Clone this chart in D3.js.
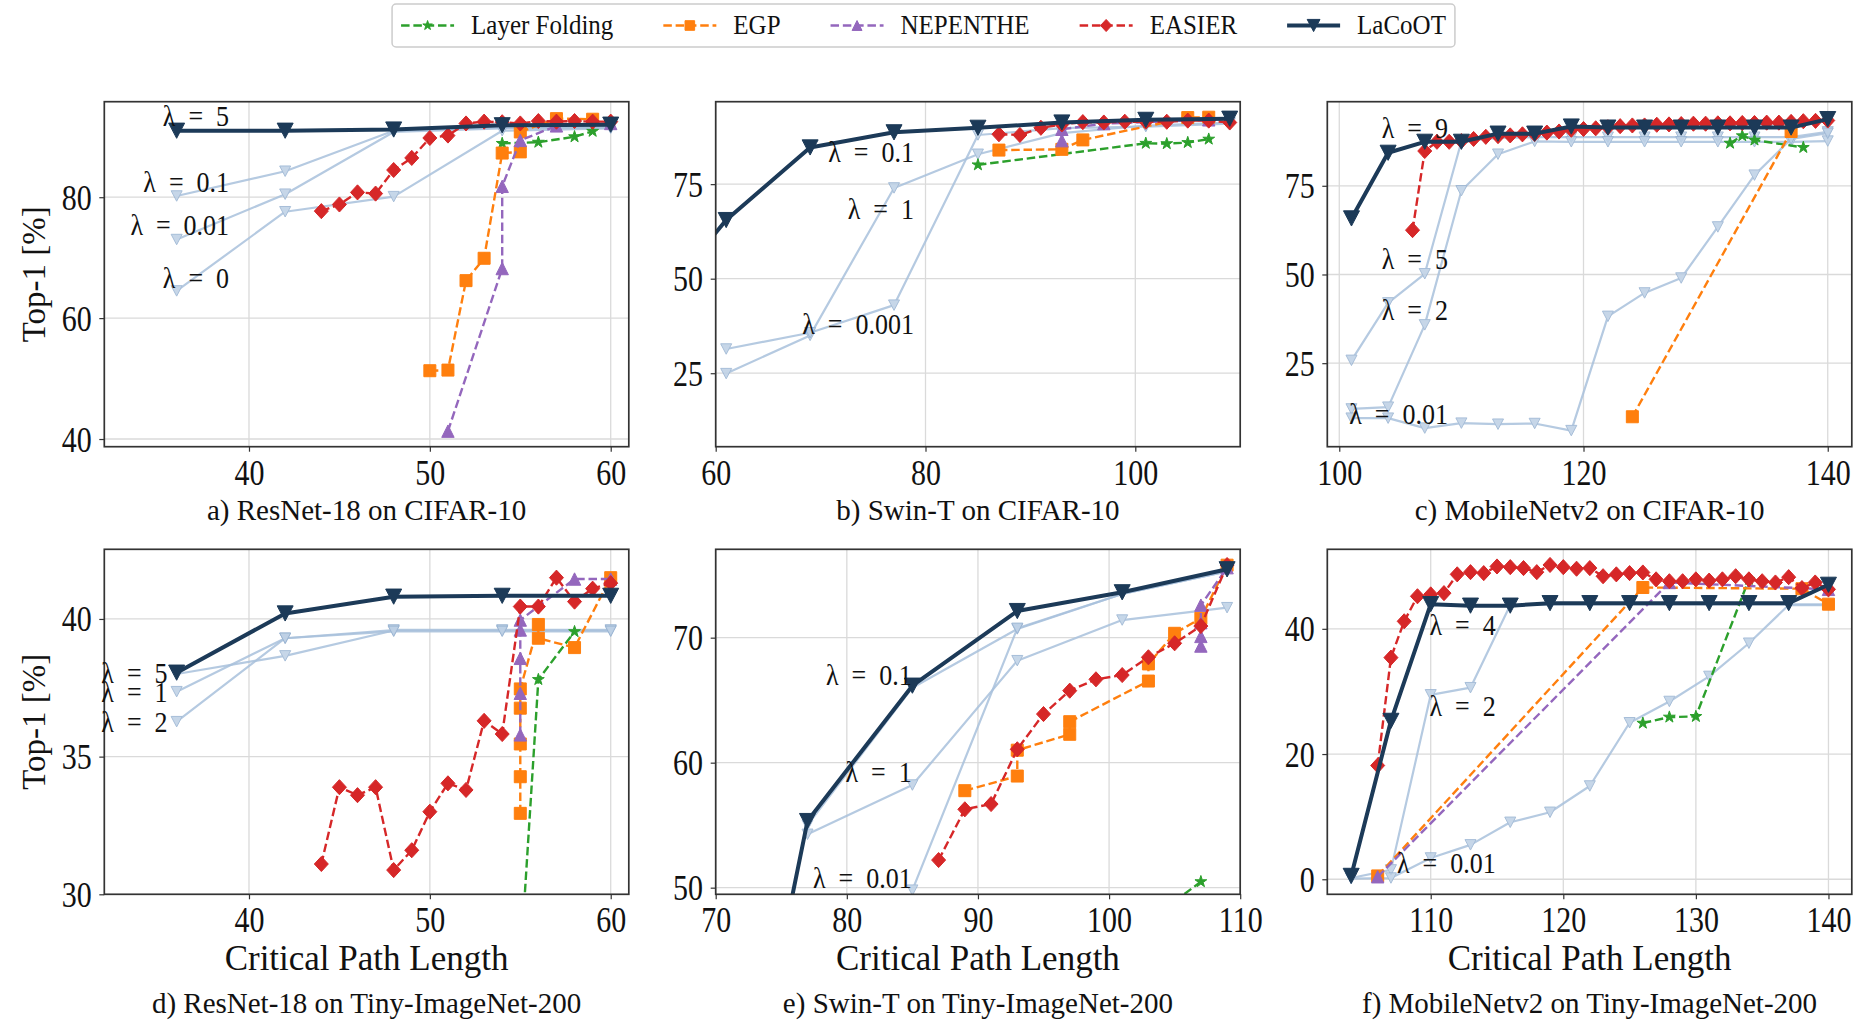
<!DOCTYPE html>
<html><head><meta charset="utf-8">
<script src="https://cdn.jsdelivr.net/npm/d3@7"></script>
<style>body{margin:0;background:#fff}svg{display:block}</style>
</head><body><svg id="chart" width="1859" height="1020"></svg>
<script>
// ---------------- DATA ----------------
const seriesNames = ["Layer Folding","EGP","NEPENTHE","EASIER","LaCoOT"];
const captions = ["a) ResNet-18 on CIFAR-10","b) Swin-T on CIFAR-10","c) MobileNetv2 on CIFAR-10",
  "d) ResNet-18 on Tiny-ImageNet-200","e) Swin-T on Tiny-ImageNet-200","f) MobileNetv2 on Tiny-ImageNet-200"];
const yAxisLabel = "Top-1 [%]";
const xAxisLabel = "Critical Path Length";

// a) ResNet-18 on CIFAR-10
const a_xTicks=[40,50,60], a_yTicks=[40,60,80];
const a_lacoot=[[36,91.0],[42,91.0],[48,91.2],[54,91.9],[60,92.0]];
const a_lam01=[[36,80.2],[42,84.3],[48,91.0],[54,91.5],[60,91.6]];
const a_lam001=[[36,73.0],[42,80.5],[48,90.8],[54,91.4],[60,91.5]];
const a_lam0=[[36,64.5],[42,77.6],[48,80.1],[54,91.0],[60,91.4]];
const a_easier=[[44,77.7],[45,78.8],[46,80.8],[47,80.6],[48,84.5],[49,86.5],[50,89.8],[51,90.2],[52,92.2],[53,92.5],[54,92.4],[55,92.2],[56,92.6],[57,92.5],[58,92.6],[59,92.5],[60,92.5]];
const a_egp=[[50,51.3],[51,51.4],[52,66.2],[53,69.9],[54,87.3],[55,87.5],[55,90.8],[57,93.0],[59,92.9]];
const a_nepenthe=[[51,41.3],[54,68.2],[54,81.8],[55,89.4],[57,91.8],[60,92.2]];
const a_layerfold=[[54,88.9],[56,89.1],[58,90.0],[59,90.9]];
const a_labels=[["λ = 5",38.9,93.4],["λ = 0.1",38.9,82.5],["λ = 0.01",38.9,75.4],["λ = 0",38.9,66.7]];

// b) Swin-T on CIFAR-10
const b_xTicks=[60,80,100], b_yTicks=[25,50,75];
const b_lacoot=[[57,52.0],[61,65.5],[69,84.7],[77,88.7],[85,89.9],[93,91.3],[101,92.0],[109,92.3]];
const b_lam1=[[61,24.9],[69,35.0],[77,74.0],[85,82.9],[93,88.5],[101,90.5],[109,91.3]];
const b_lam0001=[[61,31.4],[69,35.7],[77,43.0],[85,88.0],[93,89.8],[101,90.2],[109,91.0]];
const b_easier=[[87,88.2],[89,88.0],[91,89.9],[93,90.8],[95,91.4],[97,91.3],[99,91.5],[101,91.5],[103,91.5],[105,91.8],[107,91.8],[109,91.3]];
const b_egp=[[87,84.0],[93,84.2],[95,86.7],[105,92.6],[107,92.7]];
const b_nepenthe=[[93,86.5],[93,89.5],[97,91.0],[107,92.0]];
const b_layerfold=[[85,80.1],[101,85.8],[103,85.7],[105,86.0],[107,86.9]];
const b_labels=[["λ = 0.1",78.9,83.6],["λ = 1",78.9,68.55],["λ = 0.001",78.9,38.1]];

// c) MobileNetv2 on CIFAR-10
const c_xTicks=[100,120,140], c_yTicks=[25,50,75];
const c_lacoot=[[101,65.8],[104,84.3],[107,87.4],[110,87.4],[113,89.7],[116,89.7],[119,91.7],[122,91.4],[125,91.4],[128,91.4],[131,91.4],[134,91.4],[137,91.4],[140,93.8]];
const c_lam5=[[101,25.8],[104,42.0],[107,50.2],[110,87.5],[113,88.5],[116,88.7],[119,88.7],[122,88.7],[125,88.7],[128,88.7],[131,88.7],[134,88.7],[137,88.7],[140,90.2]];
const c_lam2=[[101,12.1],[104,12.6],[107,35.8],[110,73.6],[113,83.9],[116,87.5],[119,87.4],[122,87.4],[125,87.4],[128,87.4],[131,87.4],[134,87.4],[137,87.4],[140,87.6]];
const c_lam001=[[101,9.5],[104,9.5],[107,6.7],[110,8.1],[113,7.8],[116,8.0],[119,6.0],[122,38.2],[125,44.8],[128,49.0],[131,63.4],[134,78.0],[137,88.2],[140,89.8]];
const c_easier=[[106,62.5],[107,84.8],[108,87.4],[109,87.4],[110,87.6],[111,88.2],[112,88.8],[113,89.0],[114,89.2],[115,89.5],[116,89.6],[117,90.0],[118,90.3],[119,90.8],[120,91.0],[121,91.2],[122,91.5],[123,91.8],[124,92.0],[125,92.0],[126,92.2],[127,92.3],[128,92.4],[129,92.5],[130,92.5],[131,92.6],[132,92.6],[133,92.7],[134,92.7],[135,92.8],[136,92.8],[137,93.0],[138,93.2],[139,93.3],[140,93.4]];
const c_egp=[[124,9.9],[137,90.3]];
const c_nepenthe=[];
const c_layerfold=[[132,87.0],[133,89.1],[134,87.9],[138,85.8]];
const c_labels=[["λ = 9",108.9,91.2],["λ = 5",108.9,54.5],["λ = 2",108.9,40.1],["λ = 0.01",108.9,10.7]];

// d) ResNet-18 on Tiny-ImageNet-200
const d_xTicks=[40,50,60], d_yTicks=[30,35,40];
const d_lacoot=[[36,38.05],[42,40.2],[48,40.81],[54,40.84],[60,40.84]];
const d_lam5=[[36,38.0],[42,38.66],[48,39.58],[54,39.58],[60,39.58]];
const d_lam1=[[36,37.36],[42,39.3],[48,39.6],[54,39.6],[60,39.6]];
const d_lam2=[[36,36.27],[42,39.3],[48,39.55],[54,39.55],[60,39.55]];
const d_easier=[[44,31.1],[45,33.89],[46,33.6],[47,33.89],[48,30.88],[49,31.6],[50,33.0],[51,34.03],[52,33.79],[53,36.3],[54,35.82],[55,40.45],[56,40.45],[57,41.5],[58,40.63],[59,41.1],[60,41.3]];
const d_egp=[[55,32.94],[55,34.27],[55,35.46],[55,36.76],[55,37.46],[56,39.8],[56,39.3],[58,38.96],[60,41.5]];
const d_nepenthe=[[55,35.79],[55,37.3],[55,38.57],[55,39.6],[55,39.96],[58,41.45],[60,41.45]];
const d_layerfold=[[55,27.4],[56,37.8],[58,39.54]];
const d_labels=[["λ = 5",35.5,38.03],["λ = 1",35.5,37.36],["λ = 2",35.5,36.27]];

// e) Swin-T on Tiny-ImageNet-200
const e_xTicks=[70,80,90,100,110], e_yTicks=[50,60,70];
const e_lacoot=[[75,45.0],[77,55.33],[85,66.16],[93,72.13],[101,73.63],[109,75.47]];
const e_lam01=[[77,55.0],[85,66.0],[93,70.7],[101,73.5],[109,75.3]];
const e_lam1=[[77,54.27],[85,58.21],[93,68.16],[101,71.41],[109,72.4]];
const e_lam001=[[85,49.8],[93,70.75],[101,73.5],[109,75.3]];
const e_easier=[[87,52.21],[89,56.27],[91,56.69],[93,61.07],[95,63.89],[97,65.76],[99,66.67],[101,67.01],[103,68.43],[105,69.55],[107,70.93],[109,75.81]];
const e_egp=[[89,57.76],[93,58.93],[93,61.0],[97,62.27],[97,63.28],[103,66.53],[103,67.9],[105,70.35],[107,71.55],[109,75.8]];
const e_nepenthe=[[107,69.33],[107,70.1],[107,71.2],[107,72.6],[109,75.6]];
const e_layerfold=[[105,48.9],[107,50.48]];
const e_labels=[["λ = 0.1",84.95,67.0],["λ = 1",84.95,59.28],["λ = 0.01",84.95,50.75]];

// f) MobileNetv2 on Tiny-ImageNet-200
const f_xTicks=[110,120,130,140], f_yTicks=[0,20,40];
const f_lacoot=[[104,0.54],[107,25.3],[110,43.94],[113,43.7],[116,43.7],[119,44.1],[122,44.1],[125,44.1],[128,44.1],[131,44.1],[134,44.1],[137,44.1],[140,47.03]];
const f_lam2=[[104,0.2],[107,1.5],[110,29.46],[113,30.6],[116,43.8],[119,43.9],[122,43.9],[125,43.9],[128,43.9],[131,43.9],[134,43.9],[137,43.9],[140,43.9]];
const f_lam001=[[104,0.1],[107,0.2],[110,3.4],[113,5.5],[116,9.1],[119,10.7],[122,14.9],[125,25.0],[128,28.4],[131,32.4],[134,37.7],[137,43.8],[140,43.8]];
const f_easier=[[106,18.17],[107,35.4],[108,41.2],[109,45.2],[110,45.5],[111,45.7],[112,48.7],[113,49.05],[114,48.9],[115,49.96],[116,49.85],[117,49.7],[118,49.05],[119,50.2],[120,49.85],[121,49.6],[122,49.7],[123,48.4],[124,48.7],[125,48.9],[126,49.0],[127,47.9],[128,47.6],[129,47.6],[130,47.9],[131,47.7],[132,47.9],[133,48.4],[134,47.9],[135,47.6],[136,47.4],[137,48.25],[138,46.5],[139,47.4],[140,46.3]];
const f_egp=[[106,0.54],[126,46.6],[138,46.4],[140,43.94]];
const f_nepenthe=[[106,0.4],[128,47.4],[140,46.3]];
const f_layerfold=[[126,24.93],[128,25.9],[130,26.0],[134,47.9]];
const f_labels=[["λ = 4",114.9,40.6],["λ = 2",114.9,27.6],["λ = 0.01",114.9,2.6]];

// ---------------- LAYOUT / STYLE ----------------
const FONT="'Liberation Serif','Times New Roman',serif";
const C={lac:'#1c3a58', light:'#a9c1dc', lightFill:'#bdd0e5', lightEdge:'#98b3d2', eas:'#d62728', egp:'#ff7f0e', nep:'#9467bd', lf:'#2ca02c', grid:'#dadada', spine:'#333333'};
const colX=[104.3,715.7,1327.3], rowY=[101.7,549.3], PW=524.5, PH=345;

const panels=[
 {col:0,row:0,xDom:[32.0,61.0],yDom:[38.73,95.8],xt:a_xTicks,yt:a_yTicks,light:[a_lam01,a_lam001,a_lam0],lf:a_layerfold,egp:a_egp,nep:a_nepenthe,eas:a_easier,lac:a_lacoot,labels:a_labels,cap:captions[0]},
 {col:1,row:0,xDom:[60,110],yDom:[5.57,96.8],xt:b_xTicks,yt:b_yTicks,light:[b_lam1,b_lam0001],lf:b_layerfold,egp:b_egp,nep:b_nepenthe,eas:b_easier,lac:b_lacoot,labels:b_labels,cap:captions[1]},
 {col:2,row:0,xDom:[99.02,141.97],yDom:[1.46,98.7],xt:c_xTicks,yt:c_yTicks,light:[c_lam5,c_lam2,c_lam001],lf:c_layerfold,egp:c_egp,nep:c_nepenthe,eas:c_easier,lac:c_lacoot,labels:c_labels,cap:captions[2]},
 {col:0,row:1,xDom:[32.0,61.0],yDom:[30,42.53],xt:d_xTicks,yt:d_yTicks,light:[d_lam5,d_lam1,d_lam2],lf:d_layerfold,egp:d_egp,nep:d_nepenthe,eas:d_easier,lac:d_lacoot,labels:d_labels,cap:captions[3]},
 {col:1,row:1,xDom:[70,110],yDom:[49.47,77.07],xt:e_xTicks,yt:e_yTicks,light:[e_lam01,e_lam1,e_lam001],lf:e_layerfold,egp:e_egp,nep:e_nepenthe,eas:e_easier,lac:e_lacoot,labels:e_labels,cap:captions[4]},
 {col:2,row:1,xDom:[102.2,141.76],yDom:[-2.4,52.7],xt:f_xTicks,yt:f_yTicks,light:[f_lam2,f_lam001],lf:f_layerfold,egp:f_egp,nep:f_nepenthe,eas:f_easier,lac:f_lacoot,labels:f_labels,cap:captions[5]}
];

function marker(type,r){
  switch(type){
    case 'v': return `M${-r},${-r*0.95}L${r},${-r*0.95}L0,${r*0.95}Z`;
    case '^': return `M0,${-r}L${r},${r}L${-r},${r}Z`;
    case 's': return `M${-r},${-r}H${r}V${r}H${-r}Z`;
    case 'D': return `M0,${-r*1.08}L${r},0L0,${r*1.08}L${-r},0Z`;
    case '*': return d3.symbol(d3.symbolStar, r*r/0.8908)();
  }
}
const styles={
  light:{color:C.light,lw:2.2,dash:null,m:'v',r:5.5,fill:C.lightFill,edge:C.lightEdge,op:0.85},
  lf:{color:C.lf,lw:2.4,dash:'8.5,3.8',m:'*',r:6.2},
  egp:{color:C.egp,lw:2.4,dash:'8.5,3.8',m:'s',r:6},
  nep:{color:C.nep,lw:2.4,dash:'8.5,3.8',m:'^',r:6.2},
  eas:{color:C.eas,lw:2.4,dash:'8.5,3.8',m:'D',r:7},
  lac:{color:C.lac,lw:4,dash:null,m:'v',r:8}
};

const svg=d3.select('#chart').attr('font-family',FONT);

function stretchedText(g,x,y,str,size,anchor,sy){
  return g.append('text').attr('transform',`translate(${x},${y}) scale(1,${sy})`)
    .attr('text-anchor',anchor).attr('font-size',size).attr('fill','#111').text(str);
}
function fmtLam(s){return s.replace(/ = /,'\u2002=\u2002');}

panels.forEach((p,i)=>{
  const x0=colX[p.col], y0=rowY[p.row];
  const g=svg.append('g').attr('transform',`translate(${x0},${y0})`);
  const x=d3.scaleLinear().domain(p.xDom).range([0,PW]);
  const y=d3.scaleLinear().domain(p.yDom).range([PH,0]);
  const clipId='clip'+i;
  g.append('clipPath').attr('id',clipId).append('rect').attr('width',PW).attr('height',PH);
  // grid
  g.append('g').selectAll('line').data(p.xt).join('line')
    .attr('x1',d=>x(d)).attr('x2',d=>x(d)).attr('y1',0).attr('y2',PH)
    .attr('stroke',C.grid).attr('stroke-width',1.3);
  g.append('g').selectAll('line').data(p.yt).join('line')
    .attr('y1',d=>y(d)).attr('y2',d=>y(d)).attr('x1',0).attr('x2',PW)
    .attr('stroke',C.grid).attr('stroke-width',1.3);
  const data=g.append('g').attr('clip-path',`url(#${clipId})`);
  const line=d3.line().x(d=>x(d[0])).y(d=>y(d[1]));
  function drawSeries(pts,st){
    if(!pts.length) return;
    const sg=data.append('g').attr('opacity',st.op||1);
    sg.append('path').attr('d',line(pts)).attr('fill','none').attr('stroke',st.color)
      .attr('stroke-width',st.lw).attr('stroke-dasharray',st.dash).attr('stroke-linejoin','round');
    sg.selectAll('path.m').data(pts).join('path').attr('class','m')
      .attr('transform',d=>`translate(${x(d[0])},${y(d[1])})`)
      .attr('d',marker(st.m,st.r)).attr('fill',st.fill||st.color)
      .attr('stroke',st.edge||st.color).attr('stroke-width',1);
  }
  p.light.forEach(s=>drawSeries(s,styles.light));
  drawSeries(p.lf,styles.lf);
  drawSeries(p.egp,styles.egp);
  drawSeries(p.nep,styles.nep);
  drawSeries(p.eas,styles.eas);
  drawSeries(p.lac,styles.lac);
  // spines
  g.append('rect').attr('width',PW).attr('height',PH).attr('fill','none')
    .attr('stroke',C.spine).attr('stroke-width',1.7);
  // axes
  const SY=1.2;
  const xa=g.append('g').attr('transform',`translate(0,${PH})`)
    .call(d3.axisBottom(x).tickValues(p.xt).tickSize(5).tickFormat(d3.format('d')));
  xa.select('.domain').remove();
  xa.selectAll('line').attr('stroke',C.spine).attr('stroke-width',1.2);
  xa.selectAll('text').attr('dy',null).attr('y',38/SY).attr('transform',`scale(1,${SY})`)
    .attr('font-size',30).attr('font-family',FONT).attr('fill','#111');
  const ya=g.append('g')
    .call(d3.axisLeft(y).tickValues(p.yt).tickSize(5).tickFormat(d3.format('d')));
  ya.select('.domain').remove();
  ya.selectAll('line').attr('stroke',C.spine).attr('stroke-width',1.2);
  ya.selectAll('text').attr('dy',null).attr('x',-12.6).attr('y',12/SY).attr('transform',`scale(1,${SY})`)
    .attr('font-size',30).attr('font-family',FONT).attr('fill','#111');
  // lambda labels
  p.labels.forEach(l=>{
    stretchedText(g,x(l[1]),y(l[2])+10,fmtLam(l[0]),26,'end',1.15);
  });
  // axis labels
  if(p.col===0){
    g.append('text').attr('transform',`translate(${37-x0+8},${PH/2}) rotate(-90)`)
      .attr('text-anchor','middle').attr('font-size',33).attr('fill','#111').text(yAxisLabel);
  }
  if(p.row===1){
    g.append('text').attr('x',PW/2).attr('y',970-y0).attr('text-anchor','middle')
      .attr('font-size',35).attr('fill','#111').text(xAxisLabel);
  }
  const capY = p.row===0 ? 520 : 1013;
  g.append('text').attr('x',PW/2).attr('y',capY-y0).attr('text-anchor','middle')
    .attr('font-size',29).attr('fill','#111').text(p.cap);
});

// ---------------- LEGEND ----------------
const legStyles=[styles.lf,styles.egp,styles.nep,styles.eas,styles.lac];
const lg=svg.append('g');
const box=lg.append('rect').attr('y',4).attr('height',43).attr('rx',4)
  .attr('fill','#fff').attr('stroke','#cccccc').attr('stroke-width',1.5);
const items=lg.append('g');
let cx=0; const H=53, HP=17, GAP=50, LY=25.5;
seriesNames.forEach((n,i)=>{
  const st=legStyles[i];
  const it=items.append('g').attr('transform',`translate(${cx},0)`);
  it.append('line').attr('x1',0).attr('x2',H).attr('y1',LY).attr('y2',LY)
    .attr('stroke',st.color).attr('stroke-width',st.lw).attr('stroke-dasharray',st.dash);
  it.append('path').attr('transform',`translate(${H/2},${LY})`).attr('d',marker(st.m,st.r*0.8))
    .attr('fill',st.color).attr('stroke',st.color).attr('stroke-width',1);
  const t=it.append('text').attr('x',H+HP).attr('y',0)
    .attr('transform',`translate(0,${LY+8.5}) scale(1,1.1)`)
    .attr('font-size',25).attr('fill','#111').text(n);
  cx+=H+HP+t.node().getComputedTextLength()+GAP;
});
const totalW=cx-GAP;
const boxW=totalW+18, boxX=923.5-boxW/2;
box.attr('x',boxX).attr('width',boxW);
items.attr('transform',`translate(${boxX+9},0)`);
</script></body></html>
